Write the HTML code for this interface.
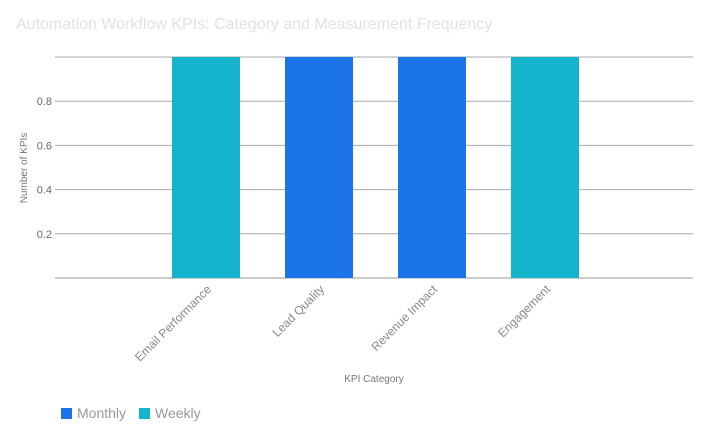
<!DOCTYPE html>
<html><head><meta charset="utf-8"><style>
body{margin:0;background:#fff;width:708px;height:437px;overflow:hidden;font-family:"Liberation Sans",sans-serif}
</style></head><body>
<svg width="708" height="437" xmlns="http://www.w3.org/2000/svg">
<text x="16" y="29" font-size="16" fill="#e2e2e2">Automation Workflow KPIs: Category and Measurement Frequency</text>
<g id="grid"></g><g id="bars"></g><g id="labels"></g>
<text x="27" y="168" font-size="10" fill="#777" transform="rotate(-90 27 168)" text-anchor="middle">Number of KPIs</text>
<text x="374" y="382" font-size="10" fill="#777" text-anchor="middle">KPI Category</text>
<rect x="61" y="408" width="11" height="11" fill="#1c75e8"/>
<text x="77" y="418" font-size="14" fill="#999">Monthly</text>
<rect x="139" y="408" width="11" height="11" fill="#14b4cc"/>
<text x="155" y="418" font-size="14" fill="#999">Weekly</text>
</svg>
<script>
const categories=["Email Performance","Lead Quality","Revenue Impact","Engagement"];
const monthly=[0,1,1,0];
const weekly=[1,0,0,1];
const yTicks=[0.2,0.4,0.6,0.8,1];
const yTickLabels=["0.2","0.4","0.6","0.8",""];
const NS="http://www.w3.org/2000/svg";
const plotL=55,plotR=693,plotT=57,plotB=278,step=113,firstCenter=206,barW=68;
const y=v=>plotB-(plotB-plotT)*v;
const x=i=>firstCenter+step*i;
function mk(t,a,p){const e=document.createElementNS(NS,t);for(const k in a)e.setAttribute(k,a[k]);p.appendChild(e);return e;}
const grid=document.getElementById('grid'),bars=document.getElementById('bars'),labels=document.getElementById('labels');
yTicks.forEach((v,i)=>{
 const l=mk('line',{x1:plotL,x2:plotR,y1:y(v),y2:y(v),stroke:'#aaa','stroke-width':1},grid);
 
 
 if(yTickLabels[i]){const t=mk('text',{x:plotL-3,y:y(v)+4,'font-size':11,fill:'#666','text-anchor':'end'},grid);t.textContent=yTickLabels[i];
 
 }
});
const ax=mk('line',{x1:plotL,x2:plotR,y1:plotB,y2:plotB,stroke:'#999','stroke-width':1},grid);


categories.forEach((c,i)=>{
 let base=0;
 [[monthly,'#1c75e8','monthly'],[weekly,'#14b4cc','weekly']].forEach(([arr,col,n])=>{
  const v=arr[i];if(v>0){const r=mk('rect',{x:x(i)-barW/2,y:y(base+v),width:barW,height:y(base)-y(base+v),fill:col},bars);
  
  }
  base+=v;
 });
 const tx=x(i)+6,ty=plotB+12;
 const t=mk('text',{x:tx,y:ty,'font-size':12,fill:'#888','text-anchor':'end',transform:`rotate(-45 ${tx} ${ty})`},labels);
 t.textContent=c;
 
 
});
</script>
</body></html>
